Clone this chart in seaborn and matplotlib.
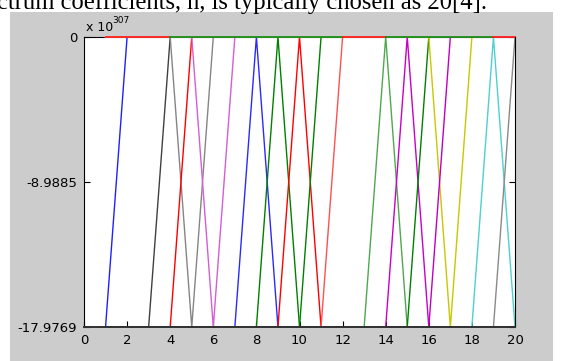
import matplotlib
matplotlib.use("Agg")
import matplotlib.pyplot as plt
import pandas as pd
import seaborn as sns
from matplotlib.patches import Rectangle

# values in units of 1e307 (top = 0, bottom = -realmax)
T = 0.0
B = -17.9769

x_points = [1, 2, 3, 4, 5, 6, 7, 8, 9, 10, 11, 12, 13, 14, 15, 16, 17, 18, 19, 20]

blue_a    = [B, T, T, T, T, T, T, T, T, T, T, T, T, T, T, T, T, T, T, T]
dark_a    = [B, B, B, T, T, T, T, T, T, T, T, T, T, T, T, T, T, T, T, T]
gray_a    = [T, T, T, T, B, T, T, T, T, T, T, T, T, T, T, T, T, T, T, T]
red_a     = [B, B, B, B, T, T, T, T, T, T, T, T, T, T, T, T, T, T, T, T]
violet_a  = [T, T, T, T, T, B, T, T, T, T, T, T, T, T, T, T, T, T, T, T]
blue_b    = [B, B, B, B, B, B, B, T, B, B, B, B, B, B, B, B, B, B, B, B]
green_a   = [B, B, B, B, B, B, B, B, T, B, B, B, B, B, B, B, B, B, B, B]
red_b     = [B, B, B, B, B, B, B, B, B, T, B, B, B, B, B, B, B, B, B, B]
green_b   = [B, B, B, B, B, B, B, B, B, B, T, T, T, T, T, T, T, T, T, T]
red_c     = [B, B, B, B, B, B, B, B, B, B, B, T, T, T, T, T, T, T, T, T]
green_c   = [B, B, B, B, B, B, B, B, B, B, B, B, B, T, B, B, B, B, B, B]
magenta_a = [B, B, B, B, B, B, B, B, B, B, B, B, B, B, T, B, B, B, B, B]
green_d   = [B, B, B, B, B, B, B, B, B, B, B, B, B, B, B, T, T, T, T, T]
yellow_a  = [T, T, T, T, T, T, T, T, T, T, T, T, T, T, T, T, B, T, T, T]
magenta_b = [B, B, B, B, B, B, B, B, B, B, B, B, B, B, B, B, T, T, T, T]
cyan_a    = [B, B, B, B, B, B, B, B, B, B, B, B, B, B, B, B, B, B, T, B]
gray_b    = [B, B, B, B, B, B, B, B, B, B, B, B, B, B, B, B, B, B, B, T]

# pieces of the top edge (last drawn series there)
edge_red_1_x, edge_red_1_y = [1, 2, 3, 4], [T, T, T, T]
edge_green_1_x, edge_green_1_y = [4, 5, 6, 7, 8, 9, 10, 11, 12], [T, T, T, T, T, T, T, T, T]
edge_red_2_x, edge_red_2_y = [12, 13, 14], [T, T, T]
edge_green_2_x, edge_green_2_y = [14, 15, 16, 17, 18, 19], [T, T, T, T, T, T]
edge_red_3_x, edge_red_3_y = [19, 20], [T, T]

x_ticks = [0, 2, 4, 6, 8, 10, 12, 14, 16, 18, 20]
y_ticks = [-17.9769, -8.9885, 0]
y_tick_labels = ["-17.9769", "-8.9885", "0"]

series = [
    ("blue_a", x_points, blue_a, "#2020ff"),
    ("dark_a", x_points, dark_a, "#404040"),
    ("gray_a", x_points, gray_a, "#858585"),
    ("red_a", x_points, red_a, "#ff0000"),
    ("violet_a", x_points, violet_a, "#d45ed4"),
    ("blue_b", x_points, blue_b, "#2a2aff"),
    ("green_a", x_points, green_a, "#008000"),
    ("red_b", x_points, red_b, "#ff0000"),
    ("green_b", x_points, green_b, "#008000"),
    ("red_c", x_points, red_c, "#ff5050"),
    ("green_c", x_points, green_c, "#4fa84f"),
    ("magenta_a", x_points, magenta_a, "#c800c8"),
    ("green_d", x_points, green_d, "#008000"),
    ("yellow_a", x_points, yellow_a, "#c8c800"),
    ("magenta_b", x_points, magenta_b, "#c000c0"),
    ("cyan_a", x_points, cyan_a, "#4fd0d0"),
    ("gray_b", x_points, gray_b, "#8a8a8a"),
    ("edge_red_1", edge_red_1_x, edge_red_1_y, "#ff2020"),
    ("edge_green_1", edge_green_1_x, edge_green_1_y, "#1a8f1a"),
    ("edge_red_2", edge_red_2_x, edge_red_2_y, "#ff2020"),
    ("edge_green_2", edge_green_2_x, edge_green_2_y, "#1a8f1a"),
    ("edge_red_3", edge_red_3_x, edge_red_3_y, "#ff2020"),
]

rows = []
for name, xs, ys, _ in series:
    for xv, yv in zip(xs, ys):
        rows.append({"x": xv, "y": yv, "series": name})
df = pd.DataFrame(rows)
palette = {name: col for name, _, _, col in series}
order = [name for name, _, _, _ in series]

W, H = 564, 361
fig = plt.figure(figsize=(W / 100, H / 100), dpi=100)
fig.patch.set_facecolor("white")
fig.patches.append(Rectangle((10 / W, 0), (553 - 10) / W, (H - 12) / H,
                             transform=fig.transFigure, facecolor="#cccccc",
                             edgecolor="none", zorder=-5))

fig.text(-3 / W, 1 - 9 / H, "ctrum coefficients, n, is typically chosen as 20[4].",
         fontfamily="Liberation Serif", fontsize=17.7, ha="left", va="baseline")

ax = fig.add_axes([84 / W, 1 - 327 / H, (515 - 84) / W, (327 - 37) / H])
ax.set_zorder(2)
ax.set_facecolor("white")

sns.lineplot(data=df, x="x", y="y", hue="series", hue_order=order, palette=palette,
             estimator=None, sort=False, legend=False, linewidth=1.0, ax=ax)

for line in ax.lines[-5:]:
    line.set_clip_on(False)
    line.set_linewidth(1.3)

ax.set_xlim(0, 20)
ax.set_ylim(-17.9769, 0)
ax.set_xticks(x_ticks)
ax.set_xticklabels([str(v) for v in x_ticks])
ax.set_yticks(y_ticks)
ax.set_yticklabels(y_tick_labels)
ax.set_xlabel("")
ax.set_ylabel("")
ax.tick_params(direction="in", top=False, right=True, length=4, width=0.8,
               labelsize=9.5, colors="black", pad=5)
for name, sp in ax.spines.items():
    sp.set_visible(True)
    sp.set_color("black")
    sp.set_linewidth(0.8)
ax.spines["top"].set_zorder(1)
ax.spines["bottom"].set_zorder(3)
ax.spines["bottom"].set_linewidth(1.4)
ax.spines["bottom"].set_color("#303030")

fig.text(86 / W, 1 - 31 / H, "x 10", fontsize=9, ha="left", va="baseline", zorder=3)
fig.text(112 / W, 1 - 23 / H, "307", fontsize=6.5, ha="left", va="baseline", zorder=3)

fig.savefig("out.png", dpi=100, facecolor="white")
